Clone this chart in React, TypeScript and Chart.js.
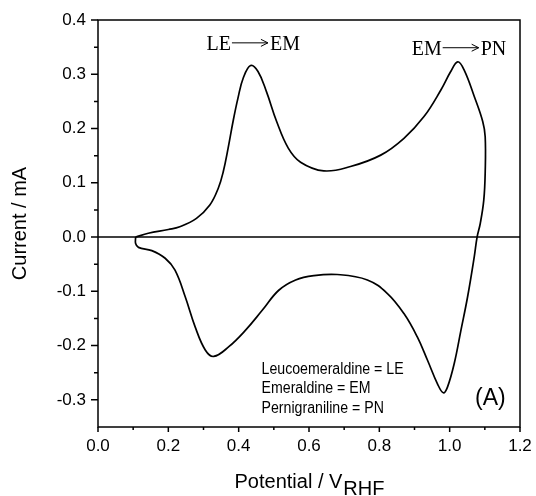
import React, { useEffect, useRef } from "react";
import { Chart, registerables } from "chart.js";

Chart.register(...registerables);

// Cyclic voltammogram: anodic sweep (upper branch) then cathodic sweep (lower branch)
const potential = [
  0.107, 0.143, 0.2, 0.2325, 0.28, 0.318, 0.342, 0.356, 0.37, 0.384, 0.398, 0.413,
  0.434, 0.455, 0.479, 0.508, 0.541, 0.576, 0.642, 0.718, 0.804, 0.87, 0.927, 0.975,
  1.003, 1.023, 1.041, 1.07, 1.094, 1.101, 1.101, 1.097, 1.087, 1.078, 1.07, 1.051,
  1.032, 1.013, 0.994, 0.982, 0.965, 0.937, 0.908, 0.87, 0.823, 0.766, 0.68, 0.614,
  0.562, 0.514, 0.467, 0.419, 0.372, 0.329, 0.305, 0.276, 0.248, 0.219, 0.191, 0.153,
  0.115, 0.107, 0.107,
];
const current = [
  0.0, 0.007, 0.014, 0.019, 0.0345, 0.059, 0.09, 0.12, 0.164, 0.213, 0.256, 0.293,
  0.316, 0.305, 0.268, 0.213, 0.164, 0.138, 0.122, 0.13, 0.151, 0.182, 0.222, 0.271,
  0.305, 0.323, 0.308, 0.259, 0.213, 0.185, 0.118, 0.068, 0.025, 0.0, -0.036, -0.11,
  -0.172, -0.233, -0.276, -0.287, -0.27, -0.227, -0.184, -0.141, -0.104, -0.079, -0.069, -0.071,
  -0.079, -0.098, -0.135, -0.172, -0.202, -0.22, -0.208, -0.165, -0.11, -0.061, -0.039, -0.025,
  -0.019, -0.012, 0.0,
];

const xTicks = [0, 0.2, 0.4, 0.6, 0.8, 1.0, 1.2];
const yTicks = [-0.3, -0.2, -0.1, 0.0, 0.1, 0.2, 0.3, 0.4];
const xMinor = [0.1, 0.3, 0.5, 0.7, 0.9, 1.1];
const yMinor = [-0.25, -0.15, -0.05, 0.05, 0.15, 0.25, 0.35];

const xTitle = "Potential / V";
const xTitleSub = "RHF";
const yTitle = "Current / mA";

const transitions = [
  { from: "LE", to: "EM", x: 0.3085, y: 0.345 },
  { from: "EM", to: "PN", x: 0.892, y: 0.336 },
];
const legendLines = ["Leucoemeraldine = LE", "Emeraldine = EM", "Pernigraniline = PN"];
const legendAnchor = { x: 0.465, y: -0.2515 };
const panelLabel = { text: "(A)", x: 1.072, y: -0.31 };

const SANS = "'Liberation Sans', Arial, Helvetica, sans-serif";
const SERIF = "'Liberation Serif', 'Times New Roman', Times, serif";

const decorPlugin = {
  id: "decor",
  beforeDatasetsDraw(chart: any) {
    const { ctx, chartArea: a, scales } = chart;
    const y0 = scales.y.getPixelForValue(0);
    ctx.save();
    ctx.strokeStyle = "#000";
    ctx.lineWidth = 1.5;
    ctx.beginPath();
    ctx.moveTo(a.left, y0);
    ctx.lineTo(a.right, y0);
    ctx.stroke();
    ctx.restore();
  },
  afterDraw(chart: any) {
    const { ctx, chartArea: a, scales } = chart;
    const xs = scales.x;
    const ys = scales.y;
    ctx.save();
    ctx.strokeStyle = "#000";
    ctx.fillStyle = "#000";
    ctx.lineWidth = 1.5;
    // frame
    ctx.strokeRect(a.left, a.top, a.right - a.left, a.bottom - a.top);
    // ticks
    ctx.beginPath();
    xTicks.forEach((v) => {
      const p = xs.getPixelForValue(v);
      ctx.moveTo(p, a.bottom);
      ctx.lineTo(p, a.bottom + 5);
    });
    xMinor.forEach((v) => {
      const p = xs.getPixelForValue(v);
      ctx.moveTo(p, a.bottom);
      ctx.lineTo(p, a.bottom + 3);
    });
    yTicks.forEach((v) => {
      const p = ys.getPixelForValue(v);
      ctx.moveTo(a.left, p);
      ctx.lineTo(a.left - 7, p);
    });
    yMinor.forEach((v) => {
      const p = ys.getPixelForValue(v);
      ctx.moveTo(a.left, p);
      ctx.lineTo(a.left - 4, p);
    });
    ctx.stroke();

    // axis titles
    ctx.font = `20px ${SANS}`;
    ctx.textBaseline = "alphabetic";
    const mainW = ctx.measureText(xTitle).width;
    const subW = ctx.measureText(xTitleSub).width;
    const cx = (a.left + a.right) / 2;
    const startX = cx - (mainW + subW) / 2;
    ctx.textAlign = "left";
    ctx.fillText(xTitle, startX, a.bottom + 61);
    ctx.fillText(xTitleSub, startX + mainW + 1, a.bottom + 68);

    ctx.save();
    ctx.translate(20, (a.top + a.bottom) / 2);
    ctx.rotate(-Math.PI / 2);
    ctx.textAlign = "center";
    ctx.textBaseline = "middle";
    ctx.fillText(yTitle, 0, 0);
    ctx.restore();

    // transition annotations (serif with arrows)
    ctx.font = `20px ${SERIF}`;
    ctx.textAlign = "left";
    ctx.textBaseline = "alphabetic";
    ctx.lineWidth = 1;
    transitions.forEach((t) => {
      const px = xs.getPixelForValue(t.x);
      const py = ys.getPixelForValue(t.y);
      const w1 = ctx.measureText(t.from).width;
      ctx.fillText(t.from, px, py);
      const ax0 = px + w1 + 1;
      const ax1 = ax0 + 36;
      const ay = py - 7;
      ctx.beginPath();
      ctx.moveTo(ax0, ay);
      ctx.lineTo(ax1, ay);
      ctx.moveTo(ax1 - 7, ay - 3.5);
      ctx.lineTo(ax1, ay);
      ctx.lineTo(ax1 - 7, ay + 3.5);
      ctx.stroke();
      ctx.fillText(t.to, ax1 + 2, py);
    });

    // legend text block
    ctx.font = `16px ${SANS}`;
    const lx = xs.getPixelForValue(legendAnchor.x);
    const ly = ys.getPixelForValue(legendAnchor.y);
    legendLines.forEach((s, i) => {
      const w = ctx.measureText(s).width;
      ctx.fillText(s, lx, ly + i * 19.7, w * 0.885);
    });

    // panel label
    ctx.font = `23px ${SANS}`;
    ctx.fillText(panelLabel.text, xs.getPixelForValue(panelLabel.x), ys.getPixelForValue(panelLabel.y));
    ctx.restore();
  },
};

export default function App() {
  const ref = useRef<HTMLCanvasElement | null>(null);
  useEffect(() => {
    if (!ref.current) return;
    const chart = new Chart(ref.current, {
      type: "scatter",
      data: {
        datasets: [
          {
            data: potential.map((x, i) => ({ x, y: current[i] })),
            showLine: true,
            borderColor: "#000",
            borderWidth: 1.7,
            pointRadius: 0,
            tension: 0.4,
            fill: false,
          },
        ],
      },
      options: {
        animation: false,
        responsive: false,
        events: [],
        layout: { padding: { left: 0, top: 20, right: 16, bottom: 0 } },
        plugins: { legend: { display: false }, tooltip: { enabled: false } },
        scales: {
          x: {
            type: "linear",
            min: 0,
            max: 1.2,
            afterBuildTicks: (s: any) => {
              s.ticks = xTicks.map((v) => ({ value: v }));
            },
            afterFit: (s: any) => {
              s.height = 69;
              s.paddingLeft = 0;
              s.paddingRight = 0;
            },
            grid: { display: false, drawTicks: false },
            border: { display: false },
            ticks: {
              padding: 9,
              color: "#000",
              font: { family: SANS, size: 17 },
              maxRotation: 0,
              autoSkip: false,
              callback: (v: any) => Number(v).toFixed(1),
            },
          },
          y: {
            type: "linear",
            min: -0.35,
            max: 0.4,
            afterBuildTicks: (s: any) => {
              s.ticks = yTicks.map((v) => ({ value: v }));
            },
            afterFit: (s: any) => {
              s.width = 98;
              s.paddingTop = 0;
              s.paddingBottom = 0;
            },
            grid: { display: false, drawTicks: false },
            border: { display: false },
            ticks: {
              padding: 12,
              color: "#000",
              font: { family: SANS, size: 17 },
              autoSkip: false,
              callback: (v: any) => Number(v).toFixed(1),
            },
          },
        },
      },
      plugins: [decorPlugin],
    } as any);
    return () => chart.destroy();
  }, []);
  return (
    <div style={{ position: "absolute", left: 0, top: 0, width: 536, height: 496, background: "#fff" }}>
      <canvas ref={ref} width={536} height={496} style={{ display: "block" }} />
    </div>
  );
}
